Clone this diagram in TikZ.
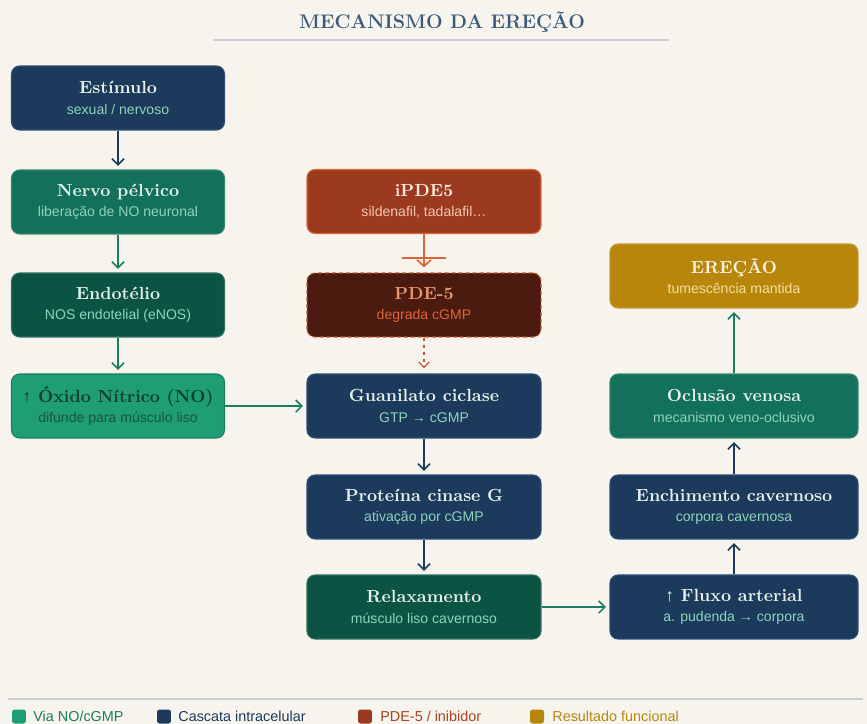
\documentclass[tikz,border=0pt]{standalone}
\usepackage{fontspec}
\setsansfont{Liberation Sans}
\usetikzlibrary{arrows.meta}

\definecolor{bgcream}{HTML}{F7F4EE}
\definecolor{headblue}{HTML}{3B5A7E}
\definecolor{ruleg}{HTML}{C9CED4}
\definecolor{navy}{HTML}{1B3A5C}
\definecolor{navyline}{HTML}{2C4D72}
\definecolor{gmid}{HTML}{13705A}
\definecolor{gdark}{HTML}{0B5443}
\definecolor{glight}{HTML}{1F9E75}
\definecolor{gedge}{HTML}{1A7D5E}
\definecolor{rust}{HTML}{9B3A1E}
\definecolor{rustline}{HTML}{E0643A}
\definecolor{brown}{HTML}{4A1B0E}
\definecolor{brownline}{HTML}{C0562F}
\definecolor{gold}{HTML}{B8860B}
\definecolor{paletxt}{HTML}{E6F0EA}
\definecolor{minttxt}{HTML}{8FD3B9}
\definecolor{deepgtxt}{HTML}{0C3D2D}
\definecolor{deepgsub}{HTML}{17563F}
\definecolor{rusttitle}{HTML}{F8E8DC}
\definecolor{rustsub}{HTML}{F3C7B0}
\definecolor{pdetitle}{HTML}{E8946C}
\definecolor{pdesub}{HTML}{E0643A}
\definecolor{goldtitle}{HTML}{FAF3E0}
\definecolor{goldsub}{HTML}{F5DF9A}
\definecolor{goldtxt}{HTML}{B8860B}
\definecolor{rusttxt}{HTML}{A8431F}

% title line + subtitle line of a box
\newcommand{\boxtxt}[2]{{\bfseries\fontsize{10}{12}\selectfont\addfontfeature{FakeBold=0.6}\color{\titcol}#1}\\{\sffamily\fontsize{8}{10}\selectfont\color{\subcol}#2}}

\begin{document}
\begin{tikzpicture}[x=0.02cm, y=-0.02cm, shorten >=2pt,
    box_style/.style={rectangle, rounded corners=0.16cm, minimum height=1.28cm,
        align=center, inner sep=2pt, line width=0.6pt, font=\fontsize{8}{11.6}\selectfont},
    navy_box/.style={box_style, fill=navy, draw=navyline, minimum width=4.26cm,
        execute at begin node={\def\titcol{paletxt}\def\subcol{minttxt}}},
    green_box/.style={box_style, fill=gmid, draw=gmid!85!white, minimum width=4.26cm,
        execute at begin node={\def\titcol{paletxt}\def\subcol{minttxt}}},
    dgreen_box/.style={box_style, fill=gdark, draw=gdark!85!white, minimum width=4.26cm,
        execute at begin node={\def\titcol{paletxt}\def\subcol{minttxt}}},
    lgreen_box/.style={box_style, fill=glight, draw=glight!80!black, minimum width=4.26cm,
        execute at begin node={\def\titcol{deepgtxt}\def\subcol{deepgsub}}},
    rust_box/.style={box_style, fill=rust, draw=rustline, minimum width=4.68cm,
        execute at begin node={\def\titcol{rusttitle}\def\subcol{rustsub}}},
    pde_box/.style={box_style, fill=brown, draw=brownline, dash pattern=on 2.5pt off 1.5pt,
        minimum width=4.68cm,
        execute at begin node={\def\titcol{pdetitle}\def\subcol{pdesub}}},
    gold_box/.style={box_style, fill=gold, draw=gold!85!white, minimum width=4.96cm,
        execute at begin node={\def\titcol{goldtitle}\def\subcol{goldsub}}},
    navy_edge/.style={draw=navy, line width=0.9pt, -{Straight Barb[length=3.5pt, width=7pt]}},
    green_edge/.style={draw=gedge, line width=0.9pt, -{Straight Barb[length=3.5pt, width=7pt]}},
    inhib_edge/.style={draw=rustline, line width=1pt, shorten >=3pt,
        -{Straight Barb[length=3.5pt, width=8pt]}},
    inhib_bar/.style={draw=rustline, line width=1.6pt, shorten >=0pt},
    dashed_edge/.style={draw=brownline, line width=0.7pt, dash pattern=on 2pt off 2pt, shorten >=3pt,
        -{Straight Barb[length=3pt, width=6pt]}},
    legend_swatch/.style={rectangle, rounded corners=1.5pt, minimum size=0.28cm, inner sep=0pt},
    legend_text/.style={anchor=base west, inner sep=0pt, font=\sffamily\fontsize{8.2}{10}\selectfont}]

    \useasboundingbox (0,0) rectangle (867,724);
    \fill[bgcream] (0,0) rectangle (867,724);

    % heading
    \node[text=headblue, font=\bfseries\fontsize{11.2}{13}\selectfont\addfontfeature{LetterSpace=8,FakeBold=0.6}] (head) at (442,22) {MECANISMO DA EREÇÃO};
    \draw[ruleg, line width=0.8pt] (213,40) -- (673,40);

    % left column
    \node[navy_box] (est) at (118,98) {\boxtxt{Estímulo}{sexual / nervoso}};
    \node[green_box] (nerv) at (118,202) {\boxtxt{Nervo pélvico}{liberação de NO neuronal}};
    \node[dgreen_box] (endo) at (118,305) {\boxtxt{Endotélio}{NOS endotelial (eNOS)}};
    \node[lgreen_box] (no) at (118,406) {\boxtxt{{\sffamily ↑} Óxido Nítrico (NO)}{difunde para músculo liso}};

    % middle column
    \node[rust_box] (ipde) at (424,201.5) {\boxtxt{iPDE5}{sildenafil, tadalafil…}};
    \node[pde_box] (pde) at (424,305) {\boxtxt{PDE-5}{degrada cGMP}};
    \node[navy_box, minimum width=4.68cm] (gc) at (424,406) {\boxtxt{Guanilato ciclase}{GTP → cGMP}};
    \node[navy_box, minimum width=4.68cm] (pkg) at (424,507) {\boxtxt{Proteína cinase G}{ativação por cGMP}};
    \node[dgreen_box, minimum width=4.68cm] (relax) at (424,607) {\boxtxt{Relaxamento}{músculo liso cavernoso}};

    % right column
    \node[gold_box] (ere) at (734,276) {\boxtxt{EREÇÃO}{tumescência mantida}};
    \node[green_box, minimum width=4.96cm] (ocl) at (734,406) {\boxtxt{Oclusão venosa}{mecanismo veno-oclusivo}};
    \node[navy_box, minimum width=4.96cm] (ench) at (734,507) {\boxtxt{Enchimento cavernoso}{corpora cavernosa}};
    \node[navy_box, minimum width=4.96cm] (flux) at (734,607) {\boxtxt{{\sffamily ↑} Fluxo arterial}{a. pudenda → corpora}};

    \draw[navy_edge]  (est) edge (nerv);
    \draw[green_edge] (nerv) edge (endo);
    \draw[green_edge] (endo) edge (no);
    \draw[green_edge] (no) edge (gc);
    \draw[navy_edge]  (gc) edge (pkg);
    \draw[navy_edge]  (pkg) edge (relax);
    \draw[green_edge] (relax) edge (flux);
    \draw[navy_edge]  (flux) edge (ench);
    \draw[navy_edge]  (ench) edge (ocl);
    \draw[green_edge] (ocl) edge (ere);
    \draw[inhib_edge] (ipde) -- coordinate[pos=0.625] (inhbar) (pde);
    \draw[inhib_bar] ([xshift=-0.45cm]inhbar) -- ([xshift=0.45cm]inhbar);
    \draw[dashed_edge] (pde) -- (gc);

    % legend
    \draw[ruleg, line width=0.7pt] (8,699) -- (867,699);
    \node[legend_swatch, fill=glight] (sw1) at (19,716.5) {};
    \node[legend_text, text=gedge] (lg1) at (33,721) {Via NO/cGMP};
    \node[legend_swatch, fill=navy] (sw2) at (164,716.5) {};
    \node[legend_text, text=navy] (lg2) at (178,721) {Cascata intracelular};
    \node[legend_swatch, fill=rust] (sw3) at (365,716.5) {};
    \node[legend_text, text=rusttxt] (lg3) at (380,721) {PDE-5 / inibidor};
    \node[legend_swatch, fill=gold] (sw4) at (537,716.5) {};
    \node[legend_text, text=goldtxt] (lg4) at (552,721) {Resultado funcional};
\end{tikzpicture}
\end{document}
